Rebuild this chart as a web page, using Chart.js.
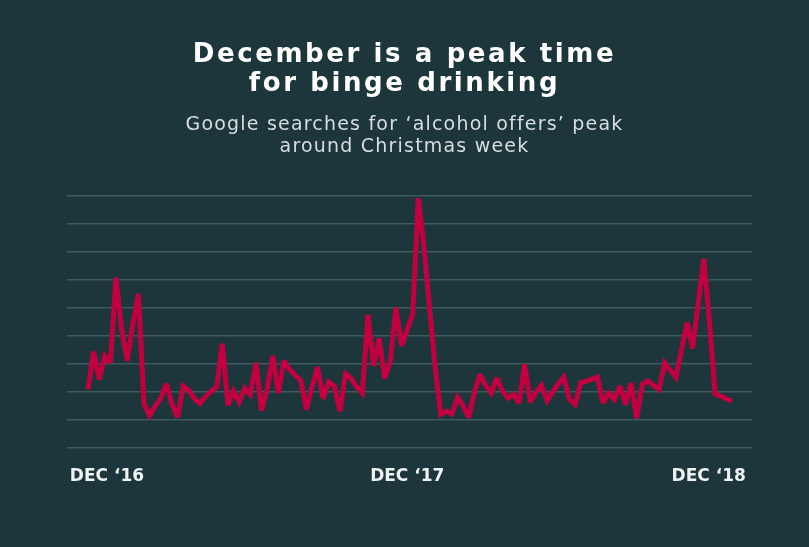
<!DOCTYPE html>
<html>
<head>
<meta charset="utf-8">
<script src="https://cdn.jsdelivr.net/npm/chart.js@4"></script>
<style>
    html, body { margin: 0; padding: 0; background: #1c363c; }
    #wrap { position: relative; width: 809px; height: 547px; overflow: hidden; }
    #title {
        position: absolute; left: 0; top: 38.5px; width: 809px;
        text-align: center; color: #ffffff;
        font: bold 26px/29px "DejaVu Sans", sans-serif; letter-spacing: 2.6px;
    }
    #subtitle {
        position: absolute; left: 0; top: 112.4px; width: 809px;
        text-align: center; color: #d6dee0;
        font: normal 19px/22px "DejaVu Sans", sans-serif; letter-spacing: 1.2px;
    }
    canvas { position: absolute; left: 0; top: 0; }
</style>
</head>
<body>
<div id="wrap">
    <canvas id="chart" width="809" height="547"></canvas>
    <div id="title">December is a peak time<br>for binge drinking</div>
    <div id="subtitle">Google searches for ‘alcohol offers’ peak<br>around Christmas week</div>
</div>
<script>
// weekly search interest (first week = early Dec 2016)
const searchIndex = [
    20.8, 34.3, 24.4, 32.8, 30.3, 60.8, 42.5, 31.0, 44.1, 55.0,
    15.6, 11.5, 14.8, 17.7, 22.8, 15.6, 10.8, 22.0, 20.5, 17.5,
    15.7, 18.3, 20.1, 21.6, 37.2, 15.1, 20.2, 16.3, 21.2, 19.0,
    30.3, 13.2, 20.9, 32.8, 19.5, 31.0, 28.1, 25.9, 24.0, 13.6,
    21.6, 28.8, 17.5, 23.5, 22.0, 13.0, 26.4, 24.8, 21.6, 19.5,
    47.5, 29.2, 39.1, 24.7, 31.0, 50.1, 36.4, 42.1, 47.8, 89.2,
    72.4, 50.0, 28.8, 11.9, 13.0, 12.0, 18.0, 15.0, 10.8, 19.6,
    26.2, 22.4, 19.5, 24.9, 20.4, 17.7, 19.0, 15.9, 29.8, 16.3,
    19.7, 22.3, 16.8, 19.9, 22.8, 25.2, 17.2, 15.4, 23.1, 23.8,
    24.5, 25.2, 15.9, 19.5, 17.2, 22.0, 15.4, 23.1, 10.5, 22.6,
    23.8, 22.3, 20.8, 30.3, 27.7, 25.2, 34.9, 44.7, 35.5, 51.8,
    67.6, 45.0, 19.2, 18.4, 17.5, 16.6
];
const xLabels = ['DEC \u201816', 'DEC \u201817', 'DEC \u201818'];
const yTicks = [0, 10, 20, 30, 40, 50, 60, 70, 80, 90];

const points = searchIndex.map((v, i) => ({ x: i, y: v }));

// keep spike tips from shooting past their vertex
const sharpTips = {
    id: 'sharpTips',
    beforeDatasetsDraw(chart) { chart.ctx.miterLimit = 2.5; }
};

new Chart(document.getElementById('chart').getContext('2d'), {
    type: 'line',
    data: {
        datasets: [{
            data: points,
            borderColor: '#c2003f',
            borderWidth: 5,
            borderJoinStyle: 'miter',
            pointRadius: 0,
            tension: 0,
            fill: false
        }]
    },
    options: {
        responsive: false,
        animation: false,
        layout: { padding: { left: 67, right: 57, top: 196, bottom: 41 } },
        plugins: { legend: { display: false }, tooltip: { enabled: false } },
        scales: {
            x: {
                type: 'linear',
                min: -3.75,
                max: 118.6,
                border: { display: false },
                grid: { display: false, drawTicks: false },
                afterBuildTicks: axis => {
                    const lo = axis.min + 0.5, hi = axis.max - 1.1;
                    axis.ticks = [lo, (axis.min + axis.max) / 2 - 0.4, hi].map(v => ({ value: v }));
                },
                ticks: {
                    autoSkip: false,
                    maxRotation: 0,
                    align: 'inner',
                    padding: 19,
                    color: '#eef2f3',
                    font: { family: 'DejaVu Sans', size: 17, weight: 'bold' },
                    callback: (v, i) => xLabels[i]
                }
            },
            y: {
                min: yTicks[0],
                max: yTicks[yTicks.length - 1],
                afterBuildTicks: axis => { axis.ticks = yTicks.map(v => ({ value: v })); },
                border: { display: false },
                grid: { color: '#3d5a5f', lineWidth: 1.5, drawTicks: false },
                ticks: { display: false }
            }
        }
    },
    plugins: [sharpTips]
});
</script>
</body>
</html>
